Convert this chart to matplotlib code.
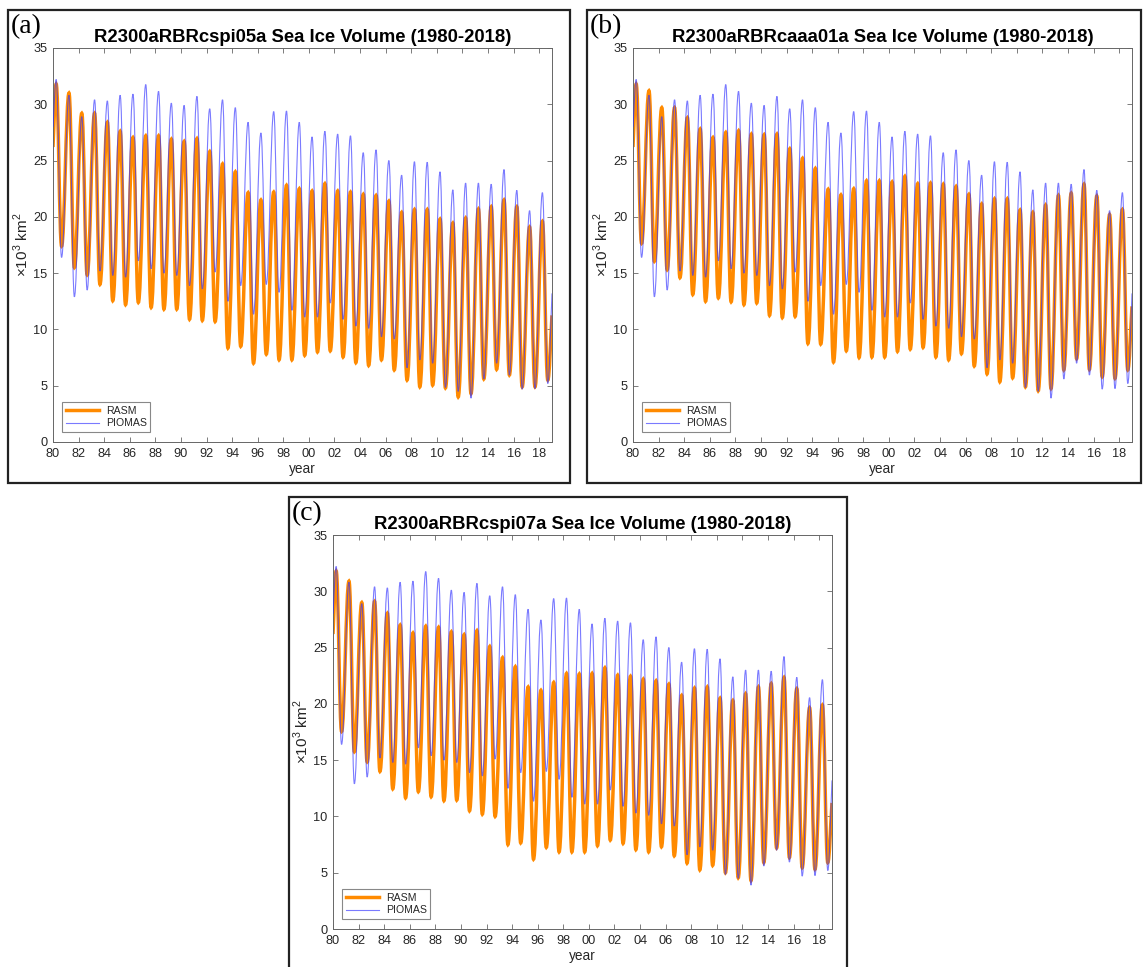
import numpy as np
import matplotlib.pyplot as plt
from matplotlib.path import Path
from matplotlib.patches import PathPatch, Rectangle
from matplotlib.lines import Line2D

plt.rcParams['font.family'] = ['Liberation Sans', 'DejaVu Sans']
plt.rcParams['mathtext.fontset'] = 'custom'
plt.rcParams['mathtext.rm'] = 'Liberation Sans'

# annual maximum (spring) and minimum (September) sea ice volume, 1980-2018
years = np.arange(1980, 2019)

piomas_max = [32.2, 30.8, 28.9, 30.4, 30.3, 30.8, 30.9, 31.75, 31.15, 30.1,
              29.9, 30.7, 29.6, 30.4, 29.7, 28.4, 27.45, 29.35, 29.4, 28.4,
              27.1, 27.6, 27.35, 27.2, 25.7, 25.95, 25.0, 23.7, 24.9, 24.85,
              24.0, 22.4, 23.0, 23.0, 22.9, 24.2, 22.35, 20.55, 22.15]
piomas_min = [16.4, 12.9, 13.5, 15.2, 14.8, 14.65, 16.1, 15.4, 15.0, 14.8,
              13.9, 13.6, 15.1, 12.5, 13.9, 11.35, 14.0, 13.3, 11.7, 11.1,
              11.1, 12.35, 10.9, 10.3, 10.1, 9.35, 9.15, 6.6, 7.3, 7.0,
              4.85, 4.5, 3.9, 5.6, 7.0, 5.95, 4.7, 4.75, 5.2]
piomas_ends = (28.0, 13.2)

rasm_a_max = [31.8, 31.0, 29.2, 29.2, 28.4, 27.6, 27.05, 27.2, 27.2, 26.9,
              26.7, 26.95, 25.8, 24.7, 24.0, 22.15, 21.5, 22.2, 22.8, 22.5,
              22.3, 22.95, 22.3, 22.2, 22.0, 21.9, 21.4, 20.4, 20.65, 20.65,
              19.8, 19.45, 19.9, 20.7, 20.9, 21.5, 20.9, 19.1, 19.6]
rasm_a_min = [17.4, 15.5, 14.85, 14.0, 12.55, 12.2, 12.4, 11.95, 11.8, 11.8,
              10.9, 10.8, 10.7, 8.35, 8.5, 7.0, 7.8, 7.3, 7.3, 7.7,
              8.0, 8.1, 7.55, 7.05, 6.8, 7.3, 6.4, 5.5, 4.9, 5.05,
              4.8, 4.0, 4.3, 5.6, 6.45, 5.95, 4.9, 4.9, 5.5]
rasm_a_ends = (26.2, 11.25)

rasm_b_max = [31.8, 31.2, 29.7, 29.7, 28.8, 27.8, 27.05, 27.5, 27.65, 27.35,
              27.3, 27.35, 26.05, 25.2, 24.3, 22.45, 21.95, 22.5, 23.2, 23.2,
              23.1, 23.6, 22.95, 23.0, 22.9, 22.7, 22.0, 21.15, 21.6, 21.6,
              20.6, 20.4, 21.05, 21.9, 22.1, 22.9, 21.85, 20.2, 20.65]
rasm_b_min = [17.65, 16.05, 15.3, 14.6, 13.1, 12.5, 12.8, 12.45, 12.2, 12.35,
              11.25, 11.05, 11.15, 8.75, 8.7, 7.1, 8.1, 7.5, 7.55, 7.55,
              8.05, 8.25, 8.4, 7.55, 7.3, 7.85, 6.75, 6.05, 5.35, 5.7,
              4.9, 4.55, 4.75, 6.4, 7.4, 6.45, 5.8, 5.65, 6.4]
rasm_b_ends = (26.2, 12.05)

rasm_c_max = [31.8, 30.9, 29.0, 29.1, 28.05, 27.0, 26.3, 26.9, 26.8, 26.4,
              26.15, 26.5, 25.1, 24.1, 23.3, 21.5, 21.2, 21.9, 22.7, 22.65,
              22.7, 23.2, 22.55, 22.45, 22.2, 22.05, 21.75, 20.75, 21.4, 21.5,
              20.5, 20.3, 20.9, 21.5, 21.8, 22.35, 21.35, 19.65, 19.9]
rasm_c_min = [17.55, 15.75, 14.85, 14.0, 12.45, 11.65, 12.2, 11.75, 11.4, 11.45,
              10.5, 10.2, 10.0, 7.5, 7.65, 6.2, 7.25, 6.85, 6.85, 6.85,
              7.4, 7.9, 7.6, 7.05, 6.85, 7.3, 6.5, 5.85, 5.25, 5.65,
              5.0, 4.55, 4.3, 5.9, 7.2, 6.35, 5.45, 5.3, 5.9]
rasm_c_ends = (26.2, 11.2)

run_names = ['R2300aRBRcspi05a', 'R2300aRBRcaaa01a', 'R2300aRBRcspi07a']
panel_tags = ['(a)', '(b)', '(c)']
xtick_years = np.arange(1980, 2019, 2)
xtick_labels = ['%02d' % (y % 100) for y in xtick_years]

RASM_COLOR = '#ff8a00'
PIOMAS_COLOR = '#3333ff'
AX_COLOR = '#666666'
TEXT_COLOR = '#262626'


def seasonal_path(vmax, vmin, ends, peak=0.25, trough=0.67, h=0.4):
    # smooth curve through the yearly turning points (April max, Sept min)
    xs = [years[0]]
    ys = [ends[0]]
    for yr, hi, lo in zip(years, vmax, vmin):
        xs += [yr + peak, yr + trough]
        ys += [hi, lo]
    xs.append(years[-1] + 1)
    ys.append(ends[1])

    verts = [(xs[0], ys[0])]
    codes = [Path.MOVETO]
    n = len(xs)
    for i in range(1, n):
        x0, y0, x1, y1 = xs[i - 1], ys[i - 1], xs[i], ys[i]
        dx = x1 - x0
        c1 = (x0 + dx / 3, y0 + (y1 - y0) / 3) if i == 1 else (x0 + h * dx, y0)
        c2 = (x1 - dx / 3, y1 - (y1 - y0) / 3) if i == n - 1 else (x1 - h * dx, y1)
        verts += [c1, c2, (x1, y1)]
        codes += [Path.CURVE4] * 3
    return Path(verts, codes)


W, H = 1143.0, 967.0
fig = plt.figure(figsize=(W / 100, H / 100), dpi=100)

# pixel boxes: frame (left, top, right, bottom) and axes (left, top, right, bottom)
frames = [(8, 10, 570, 483), (587, 10, 1141, 483), (289, 497, 847, 975)]
axboxes = [(53, 48, 552, 442), (633, 48, 1132, 442), (333, 535, 832, 929)]
rasm_max = [rasm_a_max, rasm_b_max, rasm_c_max]
rasm_min = [rasm_a_min, rasm_b_min, rasm_c_min]
rasm_ends = [rasm_a_ends, rasm_b_ends, rasm_c_ends]

for k in range(3):
    fl, ft, fr, fb = frames[k]
    fig.add_artist(Rectangle((fl / W, 1 - fb / H), (fr - fl) / W, (fb - ft) / H,
                             transform=fig.transFigure, fill=False,
                             edgecolor='#222222', linewidth=1.6))
    fig.text((fl + 3) / W, 1 - (ft + 17) / H, panel_tags[k], fontsize=20,
             family=['Liberation Serif', 'DejaVu Serif'], va='center', ha='left')

    l, t, r, b = axboxes[k]
    ax = fig.add_axes([l / W, 1 - b / H, (r - l) / W, (b - t) / H])

    ax.add_patch(PathPatch(seasonal_path(rasm_max[k], rasm_min[k], rasm_ends[k]),
                           facecolor='none', edgecolor=RASM_COLOR, linewidth=2.5,
                           zorder=2))
    ax.add_patch(PathPatch(seasonal_path(piomas_max, piomas_min, piomas_ends),
                           facecolor='none', edgecolor=PIOMAS_COLOR, linewidth=0.8,
                           alpha=0.65, zorder=3))

    ax.set_xlim(1980, 2019)
    ax.set_ylim(0, 35)
    ax.set_xticks(xtick_years)
    ax.set_xticklabels(xtick_labels)
    ax.set_yticks(np.arange(0, 36, 5))
    ax.tick_params(direction='in', top=True, right=True, length=3.5, width=0.6,
                   color=AX_COLOR, labelcolor=TEXT_COLOR, labelsize=9.2, pad=4)
    for sp in ax.spines.values():
        sp.set_color(AX_COLOR)
        sp.set_linewidth(0.7)

    ax.set_title('%s Sea Ice Volume (1980-2018)' % run_names[k],
                 fontsize=13.3, fontweight='bold', pad=4)
    ax.set_xlabel('year', fontsize=9.8, color=TEXT_COLOR)
    ax.xaxis.set_label_coords(0.5, -0.052)
    ax.set_ylabel(r'$\times10^3$ km$^2$', fontsize=11, color=TEXT_COLOR)
    ax.yaxis.set_label_coords(-0.045, 0.5)

    handles = [Line2D([], [], color=RASM_COLOR, linewidth=2.5),
               Line2D([], [], color=PIOMAS_COLOR, linewidth=0.8, alpha=0.65)]
    leg = ax.legend(handles, ['RASM', 'PIOMAS'], loc='lower left',
                    bbox_to_anchor=(0.018, 0.025), borderaxespad=0,
                    fontsize=7.6, handlelength=3.2, handletextpad=0.6,
                    labelspacing=0.25, borderpad=0.35, fancybox=False,
                    framealpha=1)
    leg.get_frame().set_edgecolor('#888888')
    leg.get_frame().set_linewidth(0.8)
    for txt in leg.get_texts():
        txt.set_color(TEXT_COLOR)

fig.savefig('out.png', dpi=100)
